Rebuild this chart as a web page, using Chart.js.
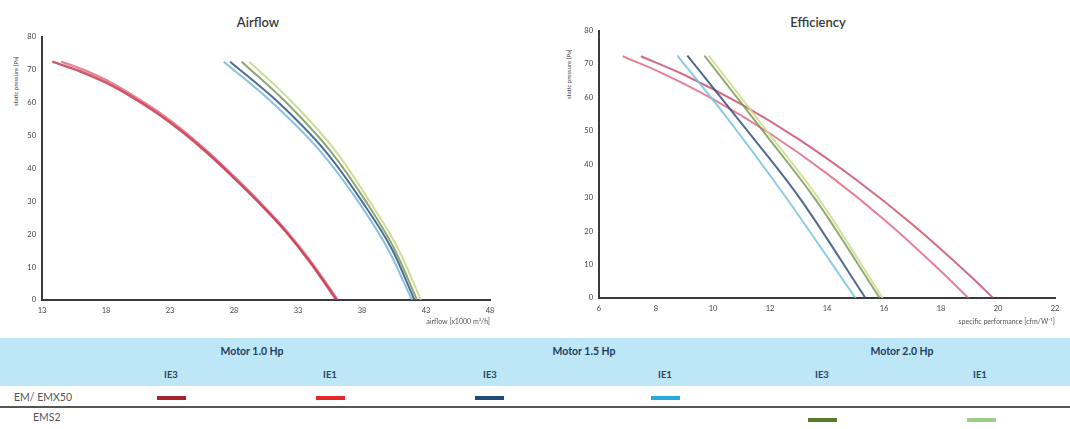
<!DOCTYPE html>
<html><head><meta charset="utf-8">
<script src="https://cdn.jsdelivr.net/npm/chart.js@4.4.1/dist/chart.umd.min.js"></script>
<style>
body{margin:0;width:1070px;height:429px;overflow:hidden;background:#fff;font-family:Lato,"Open Sans",sans-serif;position:relative;color:#333}
.abs{position:absolute}
.ttl{font-size:13px;font-weight:600;color:#3a3a3a;text-align:center;width:160px}
.ytl{font-size:6px;color:#444;transform-origin:0 0;transform:rotate(-90deg);white-space:nowrap}
.band{left:0;top:338px;width:1070px;height:48px;background:#bde6f7}
.mh{font-size:10.5px;font-weight:700;color:#1f3d5c;width:140px;text-align:center;top:345px;line-height:13px}
.ie{font-size:9.5px;font-weight:700;color:#2a4560;width:40px;text-align:center;top:369px;line-height:12px}
.rl{font-size:10.5px;color:#555;line-height:13px}
.sw{height:4px;width:29px}
.sep{left:0;top:406px;width:1070px;height:2px;background:#555}
</style></head><body>
<div class="abs ttl" style="left:178px;top:14px">Airflow</div>
<div class="abs ttl" style="left:738px;top:14px">Efficiency</div>
<div class="abs ytl" style="left:12px;top:106px">static pressure [Pa]</div>
<div class="abs ytl" style="left:565px;top:99px">static pressure [Pa]</div>
<div class="abs" style="left:0;top:25px;width:505px;height:302px"><canvas id="c1" width="505" height="302"></canvas></div>
<div class="abs" style="left:540px;top:20px;width:530px;height:307px"><canvas id="c2" width="530" height="307"></canvas></div>

<div class="abs band"></div>
<div class="abs mh" style="left:182px">Motor 1.0 Hp</div>
<div class="abs mh" style="left:514px">Motor 1.5 Hp</div>
<div class="abs mh" style="left:832px">Motor 2.0 Hp</div>
<div class="abs ie" style="left:151px">IE3</div>
<div class="abs ie" style="left:310px">IE1</div>
<div class="abs ie" style="left:470px">IE3</div>
<div class="abs ie" style="left:645px">IE1</div>
<div class="abs ie" style="left:802px">IE3</div>
<div class="abs ie" style="left:960px">IE1</div>
<div class="abs rl" style="left:14px;top:391px">EM/ EMX50</div>
<div class="abs sw" style="left:157px;top:396px;background:#a8222e"></div>
<div class="abs sw" style="left:316px;top:396px;background:#e4252a"></div>
<div class="abs sw" style="left:475px;top:396px;background:#1e4a78"></div>
<div class="abs sw" style="left:651px;top:396px;background:#27a8dc"></div>
<div class="abs sep"></div>
<div class="abs rl" style="left:33px;top:411px">EMS2</div>
<div class="abs sw" style="left:808px;top:418px;background:#5b7a2b"></div>
<div class="abs sw" style="left:967px;top:418px;background:#9fcf86"></div>

<script>
// ---- Airflow chart data (x: airflow x1000 m3/h, y: static pressure Pa) ----
const airX_IE3_10 = [13.8, 16.0, 18.0, 20.0, 22.0, 24.0, 26.0, 28.0, 30.0, 32.0, 34.0, 36.0];
const airY_IE3_10 = [72.5, 69.5, 66.1, 61.8, 56.8, 51.0, 44.4, 37.1, 29.4, 21.0, 11.2, 0];
const airX_IE1_10 = [14.5, 16.3, 18.2, 20.1, 22.1, 24.1, 26.1, 28.1, 30.1, 32.1, 34.1, 36.1];
const airY_IE1_10 = [72.5, 69.9, 66.5, 62.2, 57.2, 51.3, 44.6, 37.2, 29.4, 21.0, 11.2, 0];
const airY_15_20 = [72.5, 60, 45, 30, 15, 0];
const airX_IE3_15 = [27.7, 31.5, 35.2, 38.0, 40.4, 42.1];
const airX_IE1_15 = [27.2, 31.0, 34.8, 37.7, 40.1, 41.9];
const airX_IE3_20 = [28.6, 32.1, 35.6, 38.3, 40.6, 42.3];
const airX_IE1_20 = [29.2, 32.6, 36.0, 38.6, 40.9, 42.6];
const airTicksX = [13, 18, 23, 28, 33, 38, 43, 48];
const pressureTicks = [0, 10, 20, 30, 40, 50, 60, 70, 80];

// ---- Efficiency chart data (x: specific performance, y: static pressure Pa) ----
const effX_IE1_10 = [6.83, 8.0, 10.0, 12.0, 14.0, 16.0, 18.0, 18.96];
const effY_IE1_10 = [72.3, 68.1, 59.5, 49.2, 37.2, 23.5, 8.0, 0];
const effX_IE3_10 = [7.47, 9.0, 11.0, 13.0, 15.0, 17.0, 19.0, 19.83];
const effY_IE3_10 = [72.3, 66.7, 57.9, 47.5, 35.5, 22.0, 6.8, 0];
const effX_IE1_15 = [8.75, 10.5, 12.4, 15.0];
const effY_IE1_15 = [72.5, 53.8, 32.0, 0];
const effX_IE3_15 = [9.1, 11.0, 13.0, 15.35];
const effY_IE3_15 = [72.5, 52.2, 30.4, 0];
const effX_IE3_20 = [9.7, 11.6, 13.6, 15.85];
const effY_IE3_20 = [72.5, 51.6, 29.4, 0];
const effX_IE1_20 = [9.85, 11.7, 13.7, 15.95];
const effY_IE1_20 = [72.5, 52.0, 29.8, 0];
const effTicksX = [6, 8, 10, 12, 14, 16, 18, 20, 22];

const pts = (xs, ys) => xs.map((x, i) => ({x, y: ys[i]}));
const ds = (data, color, w) => ({data, borderColor: color, borderWidth: w, pointRadius: 0, cubicInterpolationMode: 'monotone', fill: false, showLine: true});

const tickFont = {family: 'Lato, sans-serif', size: 7.5};
function makeOpts(xMin, xMax, xStep, yAxisW, xAxisH, pad, xTitle) {
  return {
    responsive: false, animation: false,
    layout: {padding: pad},
    plugins: {legend: {display: false}, tooltip: {enabled: false}},
    scales: {
      x: {type: 'linear', min: xMin, max: xMax,
          ticks: {stepSize: xStep, color: '#444', font: tickFont, padding: 6, maxRotation: 0},
          grid: {display: false, drawTicks: false}, border: {display: true, color: '#3a3a3a', width: 2},
          title: {display: true, text: xTitle, align: 'end', color: '#555', font: {family: 'Lato, sans-serif', size: 7}, padding: {top: 0, bottom: 1}},
          afterFit: s => { s.height = xAxisH; }},
      y: {type: 'linear', min: 0, max: 80,
          ticks: {stepSize: 10, color: '#444', font: tickFont, padding: 6},
          grid: {display: false, drawTicks: false}, border: {display: true, color: '#3a3a3a', width: 2},
          afterFit: s => { s.width = yAxisW; }}
    }
  };
}

new Chart(document.getElementById('c1'), {
  type: 'scatter',
  data: {datasets: [
    ds(pts(airX_IE1_15, airY_15_20), 'rgba(110,185,220,0.85)', 2),
    ds(pts(airX_IE3_15, airY_15_20), 'rgba(50,80,130,0.85)', 2),
    ds(pts(airX_IE3_20, airY_15_20), 'rgba(110,145,80,0.8)', 2),
    ds(pts(airX_IE1_20, airY_15_20), 'rgba(200,215,130,0.85)', 2),
    ds(pts(airX_IE3_10, airY_IE3_10), 'rgba(190,50,75,0.8)', 2.5),
    ds(pts(airX_IE1_10, airY_IE1_10), 'rgba(225,80,100,0.7)', 2.5)
  ]},
  options: makeOpts(13, 48, 5, 42, 27, {top: 12, right: 15, left: 0, bottom: 0}, 'airflow [x1000 m³/h]')
});

new Chart(document.getElementById('c2'), {
  type: 'scatter',
  data: {datasets: [
    ds(pts(effX_IE1_15, effY_IE1_15), 'rgba(120,195,225,0.85)', 2),
    ds(pts(effX_IE3_15, effY_IE3_15), 'rgba(50,80,125,0.85)', 2),
    ds(pts(effX_IE3_20, effY_IE3_20), 'rgba(120,150,80,0.8)', 2),
    ds(pts(effX_IE1_20, effY_IE1_20), 'rgba(205,220,140,0.85)', 2),
    ds(pts(effX_IE1_10, effY_IE1_10), 'rgba(225,95,125,0.8)', 2),
    ds(pts(effX_IE3_10, effY_IE3_10), 'rgba(200,70,100,0.8)', 2)
  ]},
  options: makeOpts(6, 22, 2, 59, 29, {top: 9, right: 15, left: 0, bottom: 0}, 'specific performance [cfm/W⁻¹]')
});
</script>
</body></html>
